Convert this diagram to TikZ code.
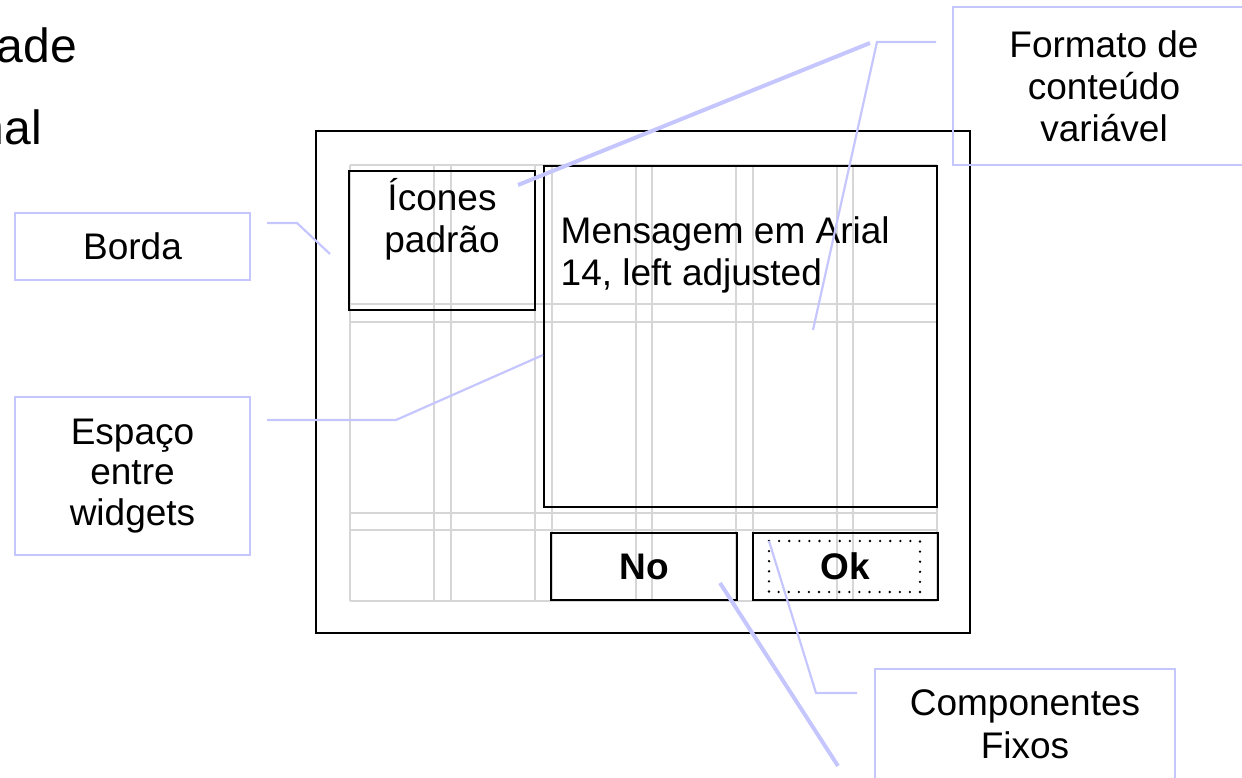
\documentclass[tikz,border=0pt]{standalone}
\usepackage{fontspec}
\setmainfont{Liberation Sans}
\definecolor{gridgray}{RGB}{214,214,214}
\definecolor{lav}{RGB}{198,198,255}
\tikzset{
  txt/.style={inner sep=0pt, font=\fontsize{37}{42}\selectfont},
  widget/.style={draw=black, line width=2.9pt, inner sep=0pt},
  callout/.style={draw=lav, line width=2.8pt, inner sep=0pt, align=center,
                  font=\fontsize{37}{42}\selectfont},
  gridline/.style={draw=gridgray, line width=2.7pt},
  leader/.style={draw=lav, line width=2.2pt},
  thickleader/.style={draw=lav, line width=4pt},
  focusdots/.style={draw=black, line width=2.6pt, line cap=round, dash pattern=on 0pt off 10.1pt},
}
\begin{document}
\begin{tikzpicture}[x=1pt, y=-1pt]
\useasboundingbox (0,0) rectangle (1242,778);

% fragments of the slide title
\node[txt, anchor=base east, font=\fontsize{48}{56}\selectfont] (title1) at (77,63) {ade};
\node[txt, anchor=base east, font=\fontsize{48}{56}\selectfont] (title2) at (42,145) {nal};

% layout grid
\foreach \x in {350,434,451,535,552,636,652,736,753,837,853,937}
  \draw[gridline] (\x,165) -- (\x,601);
\foreach \y in {165,304,322,513,530,601}
  \draw[gridline] (350,\y) -- (937,\y);

% dialog frame and widgets
\node[widget, minimum width=654pt, minimum height=502pt] (frame) at (643,382) {};
\node[widget, minimum width=186pt, minimum height=139pt] (icons) at (442,240.5) {};
\node[txt, align=center] (iconstext) at (442,219.4) {Ícones\\padrão};
\node[widget, minimum width=393pt, minimum height=341pt] (msg) at (740.5,336.5) {};
\node[txt, align=left, anchor=west] (msgtext) at (560.5,254.5) {Mensagem em Arial\\14, left adjusted};
\node[widget, minimum width=186pt, minimum height=67pt, font=\fontsize{37}{42}\selectfont\bfseries] (no) at (644,566.5) {No};
\node[widget, minimum width=185pt, minimum height=67pt, font=\fontsize{37}{42}\selectfont\bfseries] (ok) at (845.5,566.5) {Ok};
\coordinate (focusA) at (769,541);
\coordinate (focusB) at (920,592);
\draw[focusdots] (focusA) rectangle (focusB);

% callouts
\node[callout, minimum width=235pt, minimum height=67pt] (borda) at (132.5,246.5) {Borda};
\node[callout, minimum width=235pt, minimum height=158pt, font=\fontsize{37}{40.5}\selectfont] (espaco) at (132.5,476) {Espaço\\entre\\widgets};
\node[callout, minimum width=302pt, minimum height=158pt] (formato) at (1104,86) {Formato de\\conteúdo\\variável};
\node[callout, minimum width=300pt, minimum height=111pt, font=\fontsize{37}{43}\selectfont] (comp) at (1025,724.5) {Componentes\\Fixos};

% leader lines
\coordinate (bl1) at (267,223);
\coordinate (bl2) at (297,223);
\coordinate (bl3) at (330,254);
\draw[leader] (bl1) -- (bl2) -- (bl3);

\coordinate (el1) at (267,420);
\coordinate (el2) at (396,420);
\coordinate (el3) at (543,355);
\draw[leader] (el1) -- (el2) -- (el3);

\coordinate (fl1) at (936,42);
\coordinate (fl2) at (877,42);
\coordinate (fl3) at (813,330);
\draw[leader] (fl1) -- (fl2) -- (fl3);
\coordinate (fk1) at (870,43);
\coordinate (fk2) at (518,185);
\draw[thickleader] (fk1) -- (fk2);

\coordinate (cl1) at (857,693);
\coordinate (cl2) at (816,693);
\draw[leader] (cl1) -- (cl2) -- (focusA);
\coordinate (ck1) at (720,583);
\coordinate (ck2) at (838,766);
\draw[thickleader] (ck1) -- (ck2);
\end{tikzpicture}
\end{document}
